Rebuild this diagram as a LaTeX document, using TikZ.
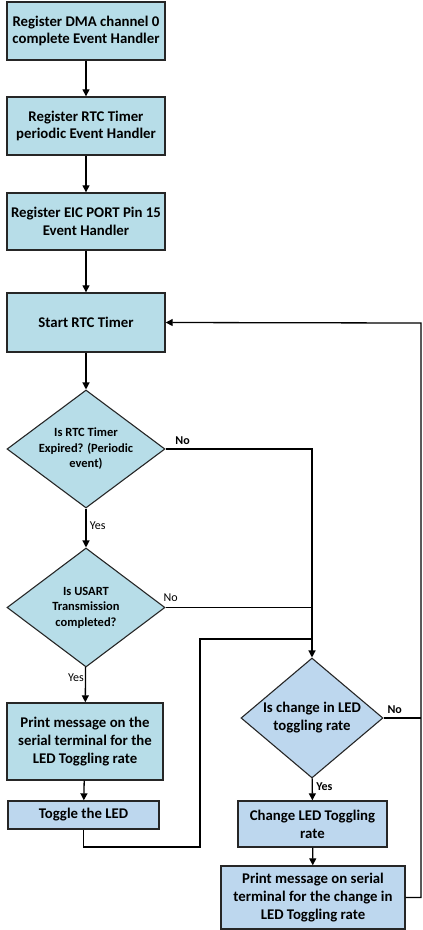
\documentclass[tikz,border=0pt]{standalone}
\usepackage{fontspec}
\setmainfont{Carlito}
\usetikzlibrary{shapes.geometric,arrows.meta}
\definecolor{boxcyan}{HTML}{B7DDE8}
\definecolor{boxblue}{HTML}{BDD7EE}
\tikzset{
  procbox/.style={draw=black!85,line width=1.4pt,fill=boxcyan,align=center,inner sep=0pt,
    font=\fontsize{14.8}{17.8}\selectfont\bfseries},
  decbox/.style={draw=black!85,line width=1.1pt,diamond,fill=boxcyan,align=center,inner sep=-2pt,
    shape aspect=1.34,font=\fontsize{12.5}{15.5}\selectfont\bfseries},
  lbl/.style={font=\fontsize{12}{14}\selectfont},
  boldlbl/.style={font=\fontsize{12}{14}\selectfont\bfseries},
  flow/.style={line width=1.3pt,-{Triangle[width=7pt,length=7pt]}}
}
\begin{document}
\begin{tikzpicture}[x=1pt,y=-1pt]
      \useasboundingbox (0,0) rectangle (423,930);
      \draw
        (86,31) node[procbox,minimum width=158pt,minimum height=58pt] (b1){Register DMA channel 0\\complete Event Handler}
        (86,126) node[procbox,minimum width=158pt,minimum height=58pt] (b2){Register RTC Timer\\periodic Event Handler}
        (86,221.5) node[procbox,minimum width=158pt,minimum height=57pt] (b3){Register EIC PORT Pin 15\\Event Handler}
        (86,322.5) node[procbox,minimum width=158pt,minimum height=59pt] (b4){Start RTC Timer}
        (86,449) node[decbox,minimum width=158pt,minimum height=118pt] (d1){Is RTC Timer\\Expired? (Periodic\\event)}
        (86,607.5) node[decbox,minimum width=158pt,minimum height=119pt] (d2){Is USART\\Transmission\\completed?}
        (85,741.5) node[procbox,minimum width=156pt,minimum height=77pt] (p1){Print message on the\\serial terminal for the\\LED Toggling rate}
        (83.5,815) node[procbox,fill=boxblue,minimum width=151pt,minimum height=28pt] (t1){Toggle the LED}
        (312,718) node[decbox,fill=boxblue,minimum width=142pt,minimum height=120pt,shape aspect=1.18,
          inner sep=-3pt,font=\fontsize{14.8}{18}\selectfont\bfseries] (d3){Is change in LED\\toggling rate}
        (312.5,824) node[procbox,fill=boxblue,minimum width=149pt,minimum height=46pt] (c1){Change LED Toggling\\rate}
        (313,897.5) node[procbox,fill=boxblue,minimum width=184pt,minimum height=63pt] (p2){Print message on serial\\terminal for the change in\\LED Toggling rate};
      \coordinate (j1) at (200,847);
      \coordinate (j2) at (200,639);
      \coordinate (r1) at (421,323);
      \begin{scope}[flow]
        \draw (b1) to (b2);
        \draw (b2) to (b3);
        \draw (b3) to (b4);
        \draw (b4) to (d1);
        \draw (d1) to node[lbl,right,pos=0.45]{Yes} (d2);
        \draw (d2) to node[lbl,left,pos=0.3,inner sep=1pt]{Yes} (p1);
        \draw (p1) to (t1);
        \draw (d1.east) -| node[boldlbl,above right,pos=0.02]{No} (d3.north);
        \draw (d3) to node[boldlbl,right,pos=0.4]{Yes} (c1);
        \draw (c1) to (p2);
        \draw (p2.east) -| (r1) -- (b4.east);
      \end{scope}
      \begin{scope}[line width=1.3pt]
        \draw (d2.east) -- node[lbl,above right,pos=0.0,xshift=-6pt,yshift=2pt]{No} (d2.east -| d3.north);
        \draw (t1.south) |- (j1) -- (j2) -- (j2 -| d3.north);
        \draw (d3.east) -- node[boldlbl,above right,pos=0.0]{No} (d3.east -| r1);
      \end{scope}
    \end{tikzpicture}
\end{document}
